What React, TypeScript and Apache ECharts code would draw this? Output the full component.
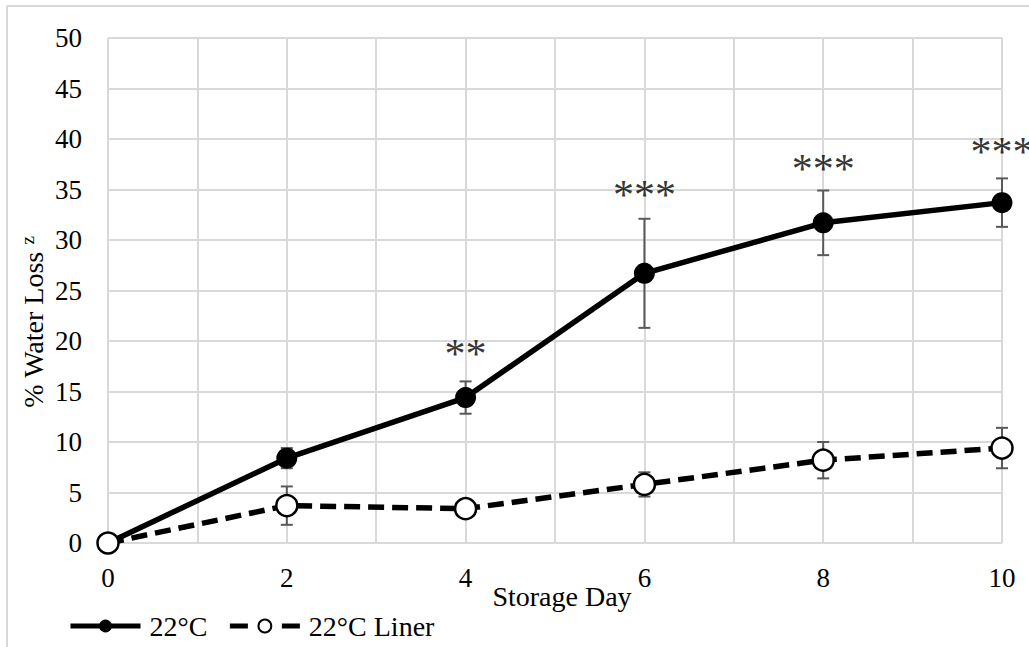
import React, { useEffect, useRef } from "react";
import * as echarts from "echarts";

const days = [0, 2, 4, 6, 8, 10];
const loss22 = [0, 8.4, 14.4, 26.7, 31.7, 33.7];
const err22 = [0, 1.0, 1.6, 5.4, 3.2, 2.4];
const lossLiner = [0, 3.7, 3.4, 5.8, 8.2, 9.4];
const errLiner = [0, 1.9, 0.4, 1.2, 1.8, 2.0];
const sigLabels = ["", "", "**", "***", "***", "***"];
const sigY = [0, 0, 19.0, 34.8, 37.3, 39.0];
const seriesNames = ["22°C", "22°C Liner"];
const yTitle = "% Water Loss ";
const ySup = "z";
const xTitle = "Storage Day";

export default function App() {
  const ref = useRef<HTMLDivElement>(null);
  useEffect(() => {
    const chart = echarts.init(ref.current!, null, { renderer: "svg" });
    const font = "Times New Roman, Liberation Serif, serif";
    const errSeries = (name: string, vals: number[], errs: number[]) => ({
      type: "custom",
      name: name + " err",
      silent: true,
      z: 1,
      data: days.map((d, i) => [d, vals[i] - errs[i], vals[i] + errs[i]]),
      encode: { x: 0, y: [1, 2] },
      renderItem: (params: any, api: any) => {
        const x = api.value(0);
        const lo = api.value(1);
        const hi = api.value(2);
        if (hi - lo <= 0) return null;
        const p1 = api.coord([x, lo]);
        const p2 = api.coord([x, hi]);
        const w = 6;
        const style = { stroke: "#595959", lineWidth: 2 };
        return {
          type: "group",
          children: [
            { type: "line", shape: { x1: p1[0], y1: p1[1], x2: p2[0], y2: p2[1] }, style },
            { type: "line", shape: { x1: p1[0] - w, y1: p1[1], x2: p1[0] + w, y2: p1[1] }, style },
            { type: "line", shape: { x1: p2[0] - w, y1: p2[1], x2: p2[0] + w, y2: p2[1] }, style },
          ],
        };
      },
    });

    chart.setOption({
      animation: false,
      textStyle: { fontFamily: font },
      grid: { left: 108, right: 27, top: 38, bottom: 104, containLabel: false },
      xAxis: {
        type: "value",
        min: 0,
        max: 10,
        interval: 1,
        axisLine: { show: false },
        axisTick: { show: false },
        splitLine: { show: true, lineStyle: { color: "#d9d9d9", width: 2 } },
        axisLabel: {
          margin: 21,
          fontSize: 27,
          fontFamily: font,
          color: "#000",
          formatter: (v: number) => (v % 2 === 0 ? String(v) : ""),
        },
      },
      yAxis: {
        type: "value",
        min: 0,
        max: 50,
        interval: 5,
        axisLine: { show: false },
        axisTick: { show: false },
        splitLine: { show: true, lineStyle: { color: "#d9d9d9", width: 2 } },
        axisLabel: { margin: 26, fontSize: 27, fontFamily: font, color: "#000" },
      },
      legend: {
        data: [
          { name: seriesNames[0], lineStyle: { width: 5 } },
          { name: seriesNames[1], lineStyle: { width: 5, type: [18, 34, 18] } },
        ],
        left: 63,
        top: 607,
        itemWidth: 70,
        itemHeight: 16,
        itemGap: 20,
        textStyle: { fontSize: 28, fontFamily: font, color: "#000", padding: [0, 0, 0, 4] },
      },
      graphic: [
        { type: "line", shape: { x1: 7, y1: 6, x2: 1029, y2: 6 }, style: { stroke: "#d9d9d9", lineWidth: 2 } },
        { type: "line", shape: { x1: 7, y1: 6, x2: 7, y2: 647 }, style: { stroke: "#d9d9d9", lineWidth: 2 } },
        {
          type: "text",
          x: 33,
          y: 322,
          rotation: Math.PI / 2,
          style: {
            text: "{a|" + yTitle + "}{b|" + ySup + "}",
            align: "center",
            verticalAlign: "middle",
            textAlign: "center",
            textVerticalAlign: "middle",
            fill: "#000",
            rich: {
              a: { fontSize: 28, fontFamily: font, fill: "#000", color: "#000" },
              b: { fontSize: 19, fontFamily: font, fill: "#000", color: "#000", verticalAlign: "top", padding: [0, 0, 12, 0] },
            },
          },
        },
        {
          type: "text",
          x: 562,
          y: 596,
          style: {
            text: xTitle,
            align: "center",
            verticalAlign: "middle",
            textAlign: "center",
            textVerticalAlign: "middle",
            fontSize: 28,
            fontFamily: font,
            fill: "#000",
          },
        },
      ],
      series: [
        errSeries(seriesNames[0], loss22, err22),
        errSeries(seriesNames[1], lossLiner, errLiner),
        {
          type: "line",
          name: seriesNames[0],
          z: 3,
          data: days.map((d, i) => [d, loss22[i]]),
          symbol: "circle",
          symbolSize: 21,
          lineStyle: { color: "#000", width: 5.5 },
          itemStyle: { color: "#000" },
        },
        {
          type: "line",
          name: seriesNames[1],
          z: 4,
          data: days.map((d, i) => [d, lossLiner[i]]),
          symbol: "circle",
          symbolSize: 21,
          lineStyle: { color: "#000", width: 5.5, type: [16, 8] },
          itemStyle: { color: "#fff", borderColor: "#000", borderWidth: 2.5 },
        },
        {
          type: "scatter",
          name: "sig",
          z: 5,
          symbolSize: 0,
          silent: true,
          data: days
            .map((d, i) => (sigLabels[i] ? [d, sigY[i], sigLabels[i]] : null))
            .filter((v) => v !== null),
          label: {
            show: true,
            position: "inside",
            formatter: (p: any) => p.value[2],
            fontSize: 42,
            fontFamily: font,
            color: "#000",
            offset: [0, 3],
          },
        },
      ],
    });
    return () => chart.dispose();
  }, []);
  return (
    <div
      ref={ref}
      style={{ position: "fixed", left: 0, top: 0, width: 1029, height: 647, background: "#fff" }}
    />
  );
}
